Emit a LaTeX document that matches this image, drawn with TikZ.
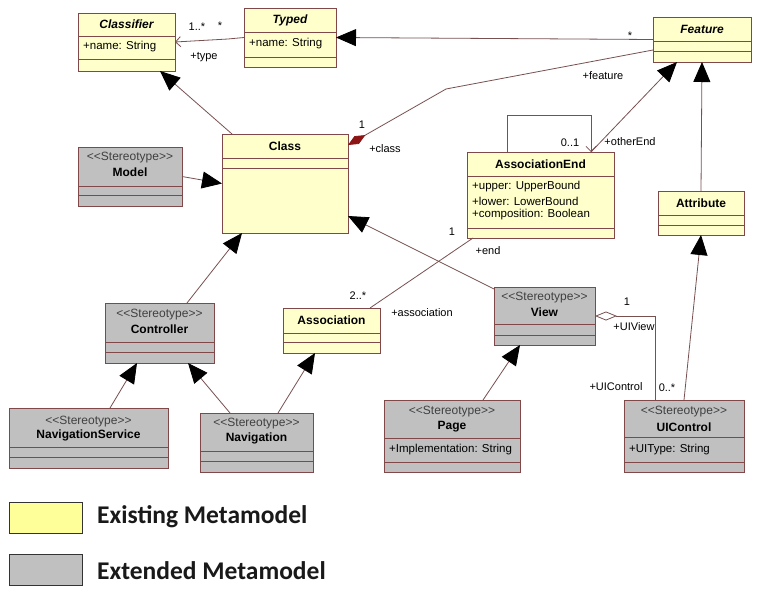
\documentclass[tikz,border=0pt]{standalone}
\usepackage{fontspec}
\setmainfont{Liberation Sans}
\newfontfamily\legendfont{Carlito}
\usetikzlibrary{arrows.meta,calc}
\definecolor{umlyellow}{RGB}{255,255,204}
\definecolor{umlgray}{RGB}{192,192,192}
\definecolor{umlborder}{RGB}{128,72,72}
\definecolor{umlline}{RGB}{120,80,80}
\definecolor{diamondred}{RGB}{140,20,20}
\definecolor{legyellow}{RGB}{255,255,153}
\newcommand{\stereo}{<\kern0pt<Stereotype>\kern0pt>}
\newcommand{\umlbox}[8]{%
  \node[umlnode,#8,minimum width={(#4)-(#2)},minimum height={(#5)-(#3)},anchor=north west] (#1) at (#2,#3) {};
  \draw[border] (#2,#6) -- (#4,#6);
  \draw[border] (#2,#7) -- (#4,#7);
}
\begin{document}
\begin{tikzpicture}[x=1pt,y=-1pt,
  umlnode/.style={draw=umlborder,line width=0.9pt,inner sep=0pt,outer sep=0pt,rectangle},
  yel/.style={fill=umlyellow}, gry/.style={fill=umlgray},
  border/.style={draw=umlborder,line width=0.9pt},
  hdr/.style={font=\fontsize{12}{13}\selectfont\bfseries,inner sep=0pt},
  hdri/.style={font=\fontsize{12}{13}\selectfont\bfseries\itshape,inner sep=0pt},
  ster/.style={font=\fontsize{12}{13}\selectfont,text=black!75,inner sep=0pt},
  attr/.style={font=\fontsize{11.5}{13}\selectfont,anchor=west,inner sep=0pt},
  lbl/.style={font=\fontsize{11}{12}\selectfont,inner sep=0pt},
  conn/.style={draw=umlline,line width=0.8pt},
  gen/.style={conn,-{Triangle[length=20pt,width=17pt,black]}},
  nav/.style={conn,-{Straight Barb[length=5pt,width=10pt]}},
  comp/.style={conn,-{Diamond[length=20pt,width=9pt,fill=diamondred,color=diamondred]}},
  aggr/.style={conn,{Diamond[open,length=22pt,width=9pt,fill=white]}-},
  legbox/.style={draw=black!80,line width=0.9pt,inner sep=0pt,outer sep=0pt,rectangle,minimum width=73pt,minimum height=31pt,anchor=north west},
  legtext/.style={font=\legendfont\bfseries\fontsize{25.5}{28}\selectfont,anchor=west,inner sep=0pt,text=black!90}
]
\fill[white] (0,0) rectangle (757,589);
\useasboundingbox (0,0) rectangle (757,589);

% boxes
\umlbox{classifier}{78}{13}{175}{71}{36}{59}{yel}
\umlbox{typed}{244}{8}{336}{67}{32}{57}{yel}
\umlbox{feature}{653}{17}{751}{62}{41}{51}{yel}
\umlbox{class}{222}{134}{348}{233}{158}{168}{yel}
\umlbox{model}{78}{147}{182}{206}{186}{195}{gry}
\umlbox{assocend}{467}{152}{614}{238}{176}{228}{yel}
\umlbox{attribute}{658}{191}{744}{235}{215}{225}{yel}
\umlbox{controller}{105}{303}{214}{363}{342}{352}{gry}
\umlbox{association}{283}{308}{380}{353}{333}{342}{yel}
\umlbox{view}{494}{287}{595}{345}{324}{335}{gry}
\umlbox{navservice}{9}{408}{168}{468}{447}{457}{gry}
\umlbox{navigation}{200}{413}{313}{472}{451}{461}{gry}
\umlbox{page}{384}{400}{520}{472}{438}{462}{gry}
\umlbox{uicontrol}{624}{400}{744}{472}{437}{462}{gry}

% texts
\node[hdri] (classifier-n) at (126.5,24) {Classifier};
\node[attr] (classifier-a) at (83,47) {+name: String};
\node[hdri] (typed-n) at (290,20) {Typed};
\node[attr] (typed-a) at (249,44) {+name: String};
\node[hdri] (feature-n) at (702,29) {Feature};
\node[hdr] (class-n) at (285,146) {Class};
\node[ster] (model-s) at (130,158) {\stereo};
\node[hdr] (model-n) at (130,172) {Model};
\node[hdr] (assocend-n) at (540.5,164) {AssociationEnd};
\node[attr] (assocend-a1) at (472,187) {+upper: UpperBound};
\node[attr] (assocend-a2) at (472,201) {+lower: LowerBound};
\node[attr] (assocend-a3) at (472,215) {+composition: Boolean};
\node[hdr] (attribute-n) at (701,203) {Attribute};
\node[ster] (controller-s) at (159.5,315) {\stereo};
\node[hdr] (controller-n) at (159.5,329) {Controller};
\node[hdr] (association-n) at (331.5,320) {Association};
\node[ster] (view-s) at (544.5,298) {\stereo};
\node[hdr] (view-n) at (544.5,312) {View};
\node[ster] (navservice-s) at (88.5,422) {\stereo};
\node[hdr] (navservice-n) at (88.5,435) {NavigationService};
\node[ster] (navigation-s) at (256.5,424) {\stereo};
\node[hdr] (navigation-n) at (256.5,438) {Navigation};
\node[ster] (page-s) at (452,412) {\stereo};
\node[hdr] (page-n) at (452,427) {Page};
\node[attr] (page-a) at (389,450) {+Implementation: String};
\node[ster] (uicontrol-s) at (684,412) {\stereo};
\node[hdr] (uicontrol-n) at (684,427) {UIControl};
\node[attr] (uicontrol-a) at (629,450) {+UIType: String};

% helper coordinates
\coordinate (bend1) at (446,89);
\coordinate (bend2) at (228,39);
\coordinate (ae-a) at ([xshift=40]assocend.north west);
\coordinate (ae-b) at ([xshift=-23]assocend.north east);
\coordinate (uic-top) at ([xshift=31]uicontrol.north west);

% connectors
\draw[nav] (typed.west) -- (bend2) -- (classifier.east);
\draw[gen] (feature.west) -- (typed.east);
\draw[comp] ([yshift=-10.5]feature.west) -- (bend1) -- ([yshift=38.5]class.east);
\draw[nav] (ae-a) -- ++(0,-37) -| (ae-b);
\draw[gen] (ae-b) -- ([xshift=24]feature.south west);
\draw[gen] (attribute.north) -- (feature.south);
\draw[gen] (uicontrol.north) -- (attribute.south);
\draw[gen] ([xshift=10]class.north west) -- ([xshift=33.5]classifier.south);
\draw[gen] (model.east) -- (class.west);
\draw[gen] ([xshift=27.5]controller.north) -- ([xshift=-43]class.south);
\draw[gen] ([xshift=21.5]navservice.north) -- ([xshift=-22.5]controller.south);
\draw[gen] ([xshift=-26.5]navigation.north) -- ([xshift=28.5]controller.south);
\draw[gen] ([xshift=21.5]navigation.north) -- ([xshift=-16.5]association.south);
\draw[conn] ([xshift=-10]association.north east) -- ([xshift=6]assocend.south west);
\draw[gen] ([yshift=-2]view.north west) -- ([yshift=-32.5]class.east);
\draw[gen] ([xshift=31]page.north) -- ([xshift=-24.5]view.south);
\draw[aggr] (view.east) -- (uic-top |- view.east) -- (uic-top);

% labels
\node[lbl] (l-typeA) at (197,27) {1..*};
\node[lbl] (l-typeB) at (220,26) {*};
\node[lbl] (l-type) at (204,57) {+type};
\node[lbl] (l-fstar) at (630,36) {*};
\node[lbl] (l-feature) at (603,76) {+feature};
\node[lbl] (l-class1) at (362,125) {1};
\node[lbl] (l-class) at (385,149) {+class};
\node[lbl] (l-oe1) at (570,143) {0..1};
\node[lbl] (l-oe) at (630,142) {+otherEnd};
\node[lbl] (l-as2) at (358,296) {2..*};
\node[lbl] (l-as) at (422,313) {+association};
\node[lbl] (l-end1) at (452,232) {1};
\node[lbl] (l-end) at (488,251) {+end};
\node[lbl] (l-uv1) at (627,302) {1};
\node[lbl] (l-uv) at (634,327) {+UIView};
\node[lbl] (l-uc) at (616,387) {+UIControl};
\node[lbl] (l-uc0) at (667,388) {0..*};

% legend
\node[legbox,fill=legyellow] (leg-y) at (9,502) {};
\node[legtext] (leg-yt) at (97,517) {Existing Metamodel};
\node[legbox,fill=umlgray] (leg-g) at (9,554) {};
\node[legtext] (leg-gt) at (97,571) {Extended Metamodel};
\end{tikzpicture}
\end{document}
